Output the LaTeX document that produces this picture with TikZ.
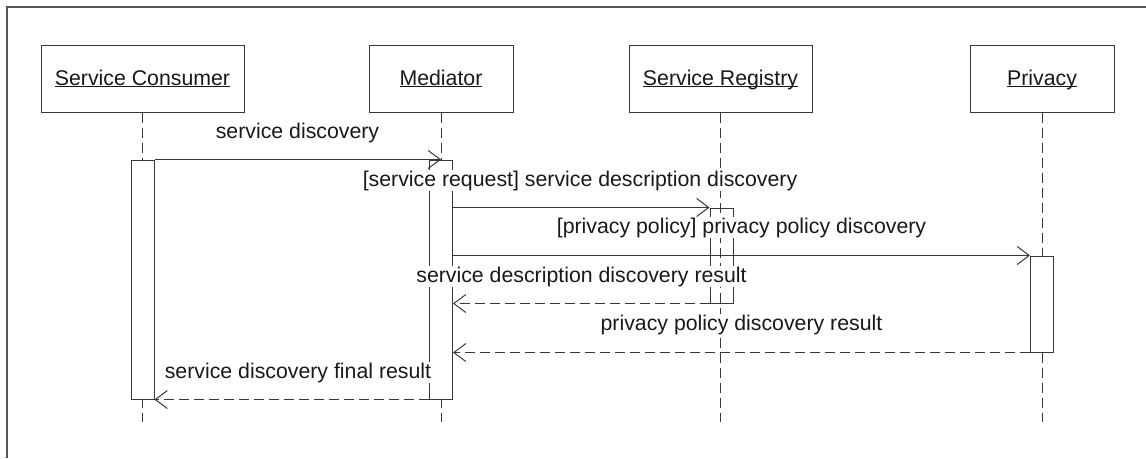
\documentclass[tikz,border=0pt]{standalone}
\usepackage{fontspec}
\setmainfont{Liberation Sans}
\usetikzlibrary{arrows.meta}
\definecolor{linecol}{RGB}{55,55,55}
\definecolor{framecol}{RGB}{85,85,85}
\definecolor{txtcol}{RGB}{25,25,25}
\newcommand\myul[1]{\setbox0=\hbox{#1}\rlap{\vrule height -1.4pt depth 2.4pt width \wd0}\box0}
\tikzset{
  every node/.style={font=\fontsize{21.3}{25}\selectfont, text=txtcol},
  actor/.style={draw=linecol, line width=1pt, fill=white, minimum width=#1, minimum height=67pt, text height=16pt, text depth=3pt, inner sep=0pt},
  actbar/.style={draw=linecol, line width=1pt, minimum width=23pt, minimum height=#1, inner sep=0pt},
  life/.style={draw=linecol, line width=1pt, dash pattern=on 10pt off 5pt},
  msg/.style={draw=linecol, line width=1pt, -{Straight Barb[length=12pt,width=18pt,line width=1pt]}},
  ret/.style={msg, dash pattern=on 10pt off 5pt},
  lbl/.style={anchor=base, fill=white, inner sep=1pt},
}
\begin{document}
\begin{tikzpicture}[x=1pt,y=-1pt]
\useasboundingbox (0,0) rectangle (1146,458);
\draw[framecol, line width=1.2pt] (7,458) -- (7,7) -- (1146,7);
% actors
\node[actor=203pt] (c) at (142.5,78.5) {\myul{Service Consumer}};
\node[actor=144pt] (m) at (441,78.5) {\myul{Mediator}};
\node[actor=183pt] (r) at (720.5,78.5) {\myul{Service Registry}};
\node[actor=144pt] (p) at (1042,78.5) {\myul{Privacy}};
% lifeline ends
\coordinate (cend) at (142.5,422);
\coordinate (mend) at (441,422);
\coordinate (rend) at (720.5,422);
\coordinate (pend) at (1042,422);
\draw[life] (c.south) -- (cend);
\draw[life] (m.south) -- (mend);
\draw[life] (r.south) -- (rend);
\draw[life] (p.south) -- (pend);
% activation bars
\node[actbar=239pt, fill=white] (ca) at (142.5,279.5) {};
\node[actbar=239pt, fill=white] (ma) at (441,279.5) {};
\node[actbar=95pt] (ra) at (721.5,255.5) {};
\node[actbar=96pt, fill=white] (pa) at (1042,304) {};
% messages
\draw[msg] (ca.north east) -- (ma.north);
\draw[msg] (ma.east |- ra.north) -- (ra.north west);
\draw[msg] (ma.east |- pa.north) -- (pa.north west);
\draw[ret] (ra.south west) -- (ma.east |- ra.south);
\draw[ret] (pa.south west) -- (ma.east |- pa.south);
\draw[ret] (ma.south west) -- (ca.south east);
% labels
\node[lbl] (l1) at (297.5,138) {service discovery};
\node[lbl] (l2) at (580,186) {[service request] service description discovery};
\node[lbl] (l3) at (741.5,233) {[privacy policy] privacy policy discovery};
\node[lbl] (l4) at (581.5,282) {service description discovery result};
\node[lbl] (l5) at (741.5,330) {privacy policy discovery result};
\node[lbl] (l6) at (298,378) {service discovery final result};
\end{tikzpicture}
\end{document}
